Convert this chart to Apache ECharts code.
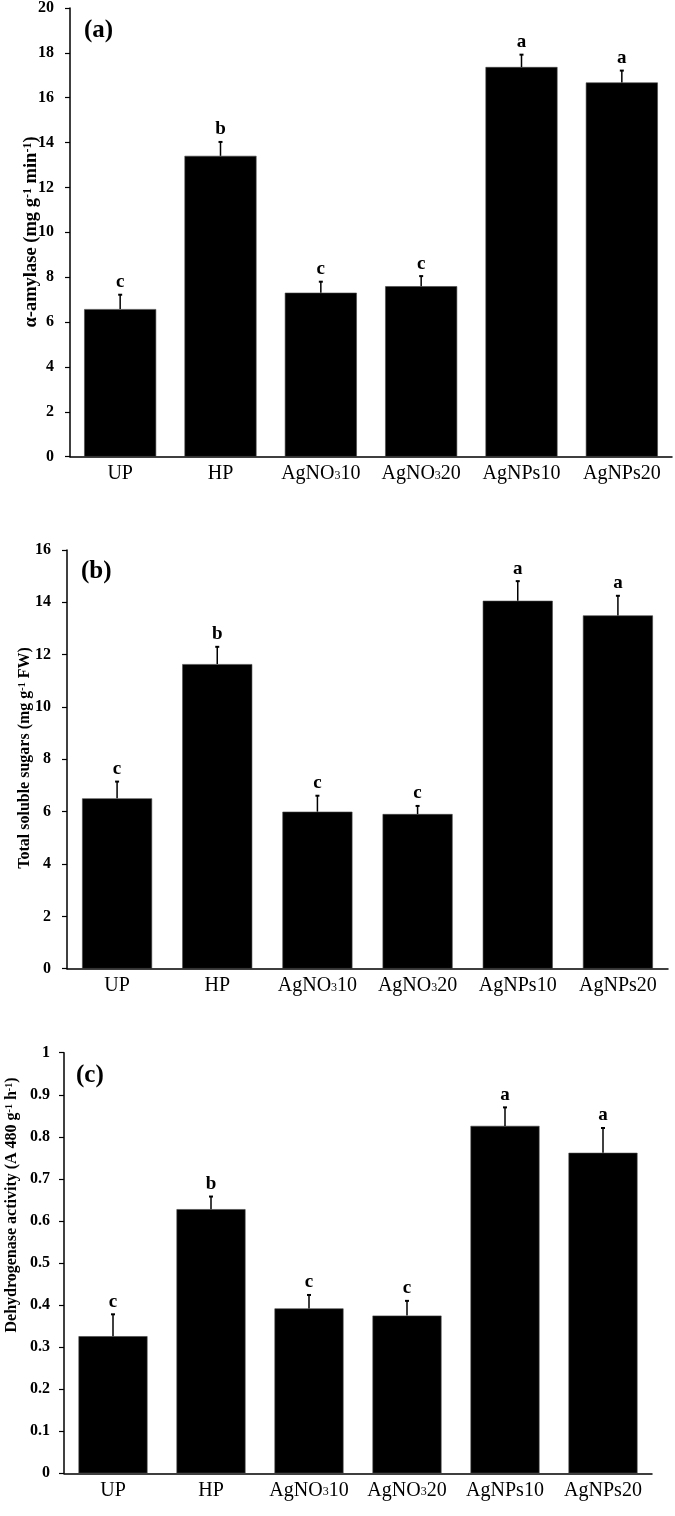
<!DOCTYPE html>
<html><head><meta charset="utf-8">
<script src="https://cdn.jsdelivr.net/npm/echarts@6/dist/echarts.min.js"></script>
<style>html,body{margin:0;padding:0;background:#fff}#c{width:675px;height:1516px}</style>
</head><body><div id="c"></div>
<script>
const categories = ['UP','HP','AgNO310','AgNO320','AgNPs10','AgNPs20'];
const amylase = [6.58, 13.41, 7.31, 7.60, 17.37, 16.68];
const amylaseErr = [0.64, 0.62, 0.49, 0.45, 0.55, 0.53];
const amylaseLetters = ['c','b','c','c','a','a'];
const sugars = [6.51, 11.64, 6.00, 5.91, 14.06, 13.50];
const sugarsErr = [0.64, 0.66, 0.61, 0.31, 0.75, 0.75];
const sugarsLetters = ['c','b','c','c','a','a'];
const dehydro = [0.326, 0.628, 0.392, 0.375, 0.826, 0.762];
const dehydroErr = [0.052, 0.030, 0.032, 0.035, 0.044, 0.059];
const dehydroLetters = ['c','b','c','c','a','a'];

const FONT = '"Liberation Serif", "Times New Roman", serif';
const chart = echarts.init(document.getElementById('c'));

const panels = [
  {vals: amylase, err: amylaseErr, letters: amylaseLetters, max: 20, interval: 2,
   grid: {left: 70, top: 7.5, width: 602, height: 449.2}, barW: 72,
   name: '{t|α-amylase (mg g}{sup|-1}{t| min}{sup|-1}{t|)}', nameSize: 18.5, nameX: 31, nameY: 232, labelMargin: 16,
   tag: '(a)', tagX: 84, tagY: 32},
  {vals: sugars, err: sugarsErr, letters: sugarsLetters, max: 16, interval: 2,
   grid: {left: 67, top: 550, width: 601, height: 418.7}, barW: 70,
   name: '{t|Total soluble sugars (mg g}{sup|-1}{t| FW)}', nameSize: 16, nameX: 25, nameY: 758, labelMargin: 16,
   tag: '(b)', tagX: 81, tagY: 573},
  {vals: dehydro, err: dehydroErr, letters: dehydroLetters, max: 1, interval: 0.1,
   grid: {left: 64, top: 1052.7, width: 588, height: 420.6}, barW: 69,
   name: '{t|Dehydrogenase activity (A 480 g}{sup|-1}{t| h}{sup|-1}{t|)}', nameSize: 16, nameX: 12, nameY: 1205, labelMargin: 14,
   tag: '(c)', tagX: 76, tagY: 1077}
];

function catFormatter(v) {
  const m = v.match(/^(AgNO)(3)(\d+)$/);
  if (m) return '{n|' + m[1] + '}{s|' + m[2] + '}{n|' + m[3] + '}';
  return '{n|' + v + '}';
}

const option = {
  animation: false,
  backgroundColor: '#fff',
  grid: [], xAxis: [], yAxis: [], series: [], graphic: []
};

panels.forEach((p, i) => {
  option.grid.push(Object.assign({containLabel: false}, p.grid));
  option.xAxis.push({
    type: 'category', gridIndex: i, data: categories,
    axisLine: {lineStyle: {color: '#000', width: 1.5}},
    axisTick: {show: false},
    axisLabel: {
      interval: 0, margin: 7, color: '#000', formatter: catFormatter,
      rich: {
        n: {fontFamily: FONT, fontSize: 20, color: '#000'},
        s: {fontFamily: FONT, fontSize: 12, color: '#000', verticalAlign: 'bottom', padding: [0,0,2,0]}
      }
    }
  });
  option.yAxis.push({
    type: 'value', gridIndex: i, min: 0, max: p.max, interval: p.interval,
    axisLine: {show: true, lineStyle: {color: '#000', width: 1.5}},
    axisTick: {show: true, length: 5, lineStyle: {color: '#000', width: 1.2}},
    splitLine: {show: false},
    axisLabel: {margin: p.labelMargin, color: '#000', fontFamily: FONT, fontWeight: 'bold', fontSize: 16}
  });
  option.series.push({
    type: 'bar', xAxisIndex: i, yAxisIndex: i, data: p.vals, barWidth: p.barW,
    itemStyle: {color: '#000', borderColor: '#444', borderWidth: 0.6}
  });
  const errData = p.vals.map((v, k) => [k, v, p.err[k]]);
  option.series.push({
    type: 'custom', xAxisIndex: i, yAxisIndex: i, data: errData, z: 5,
    renderItem: (params, api) => {
      const k = api.value(0), v = api.value(1), e = api.value(2);
      const base = api.coord([k, v]);
      const top = api.coord([k, v + e]);
      const letter = p.letters[params.dataIndex];
      return {type: 'group', children: [
        {type: 'line', shape: {x1: base[0], y1: base[1], x2: top[0], y2: top[1]}, style: {stroke: '#000', lineWidth: 1.5}},
        {type: 'line', shape: {x1: top[0] - 2, y1: top[1], x2: top[0] + 2, y2: top[1]}, style: {stroke: '#000', lineWidth: 2}},
        {type: 'text', style: {text: letter, x: top[0], y: top[1] - 3, textAlign: 'center', textVerticalAlign: 'bottom',
          font: 'bold 19px ' + FONT, fill: '#000'}}
      ]};
    }
  });
  option.graphic.push({
    type: 'text', left: p.tagX, top: p.tagY - 14,
    style: {text: p.tag, font: 'bold 25px ' + FONT, fill: '#000'}
  });
  option.graphic.push({
    type: 'text', x: p.nameX, y: p.nameY, rotation: Math.PI / 2,
    style: {
      text: p.name, align: 'center', verticalAlign: 'middle',
      rich: {
        t: {fontFamily: FONT, fontWeight: 'bold', fontSize: p.nameSize, fill: '#000'},
        sup: {fontFamily: FONT, fontWeight: 'bold', fontSize: Math.round(p.nameSize * 0.65), fill: '#000', verticalAlign: 'top'}
      }
    }
  });
});

chart.setOption(option);
</script>
</body></html>
